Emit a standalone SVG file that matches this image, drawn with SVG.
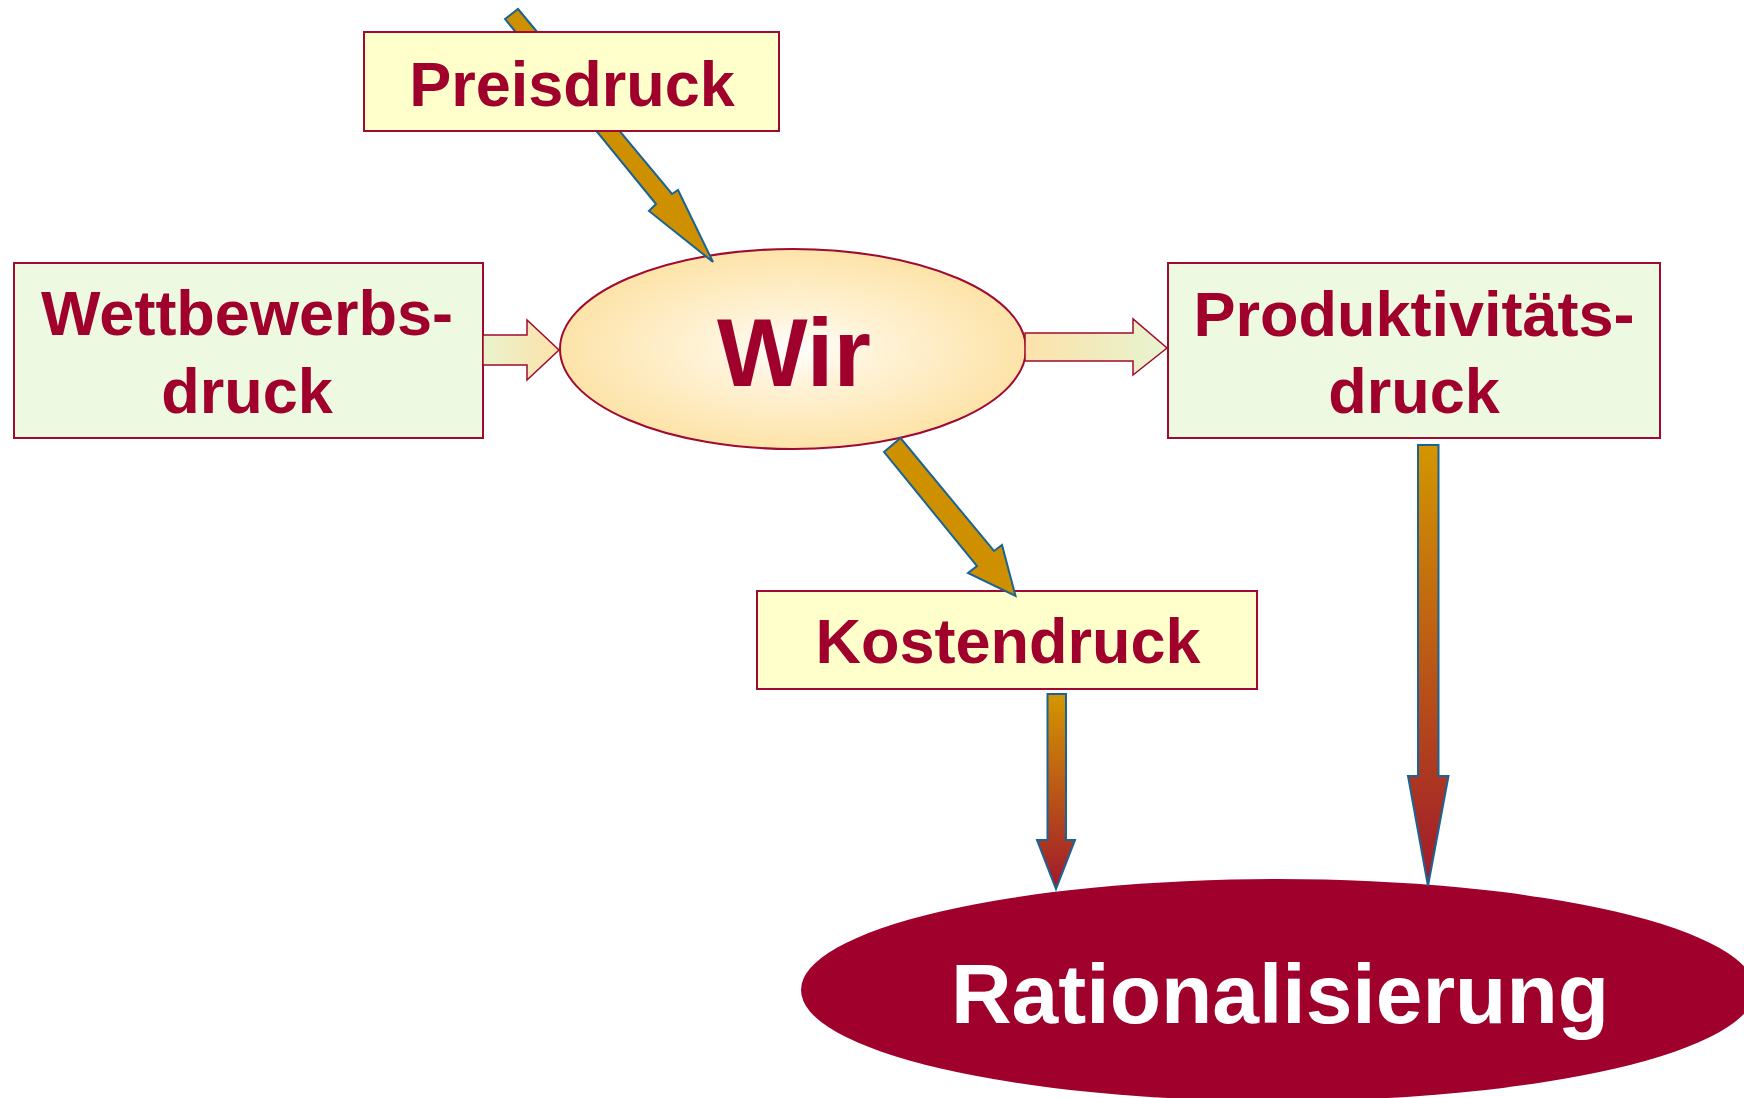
<svg xmlns="http://www.w3.org/2000/svg" width="1744" height="1098" viewBox="0 0 1744 1098">
<style>
.box{stroke:#A00A30;stroke-width:2}
.yel{fill:#FFFFCC}
.grn{fill:#EEF9E1}
.lbl{font-family:"Liberation Sans",Arial,sans-serif;font-weight:bold;fill:#A0002C;text-anchor:middle}
.diag{fill:#CF9000;stroke:#1A6494;stroke-width:2;stroke-linejoin:miter}
.down{fill:url(#gDown);stroke:#1A6494;stroke-width:2}
.harr{stroke:#A00A30;stroke-width:1.5}
</style>
<defs>
<radialGradient id="gWir" cx="50%" cy="50%" r="50%">
<stop offset="0" stop-color="#FFFFFF"/>
<stop offset="0.35" stop-color="#FFF3D8"/>
<stop offset="1" stop-color="#FDE3A8"/>
</radialGradient>
<linearGradient id="gDown" x1="0" y1="0" x2="0" y2="1">
<stop offset="0" stop-color="#D49600"/>
<stop offset="1" stop-color="#A0182C"/>
</linearGradient>
<linearGradient id="gH1" x1="0" y1="0" x2="1" y2="0">
<stop offset="0" stop-color="#E9F3CC"/>
<stop offset="1" stop-color="#FDE2AA"/>
</linearGradient>
<linearGradient id="gH2" x1="0" y1="0" x2="1" y2="0">
<stop offset="0" stop-color="#FDE2AA"/>
<stop offset="1" stop-color="#E6F4D0"/>
</linearGradient>
</defs>

<g id="node-wettbewerb">
<rect class="box grn" x="14" y="263" width="469" height="175"/>
<text class="lbl" x="247" y="335" font-size="63">Wettbewerbs-</text>
<text class="lbl" x="247" y="413" font-size="63">druck</text>
</g>

<g id="node-wir">
<ellipse cx="793" cy="349" rx="233" ry="100" fill="url(#gWir)" stroke="#A00A30" stroke-width="2"/>
<text class="lbl" x="794" y="386" font-size="96">Wir</text>
</g>

<g id="node-produktivitaet">
<rect class="box grn" x="1168" y="263" width="492" height="175"/>
<text class="lbl" x="1414" y="336" font-size="63">Produktivitäts-</text>
<text class="lbl" x="1414" y="413" font-size="63">druck</text>
</g>

<g id="node-kostendruck">
<rect class="box yel" x="757" y="591" width="500" height="98"/>
<text class="lbl" x="1008" y="663" font-size="63">Kostendruck</text>
</g>

<g id="node-rationalisierung">
<ellipse cx="1278" cy="990" rx="477" ry="111" fill="#A0002C"/>
<text class="lbl" x="1280" y="1023" font-size="84" style="fill:#FFFFFF">Rationalisierung</text>
</g>

<g id="connectors">
<polygon id="arr-preis" class="diag" points="505,19 518,9 672,194 678,190 713,262 649,211 656,204"/>
<polygon id="arr-wett" class="harr" fill="url(#gH1)" points="483,335 527,335 527,320 559,350 527,380 527,365 483,365"/>
<polygon id="arr-prod" class="harr" fill="url(#gH2)" points="1025,333 1133,333 1133,319 1167,348 1133,375 1133,361 1025,361"/>
<polygon id="arr-kosten" class="diag" points="884,452 900.5,438 994,551 1002,545 1015.5,596 968,573 977,566"/>
<polygon id="arr-kosten-rat" class="down" points="1047.5,694 1066,694 1066,840 1075,840 1056,889 1037,840 1047.5,840"/>
<polygon id="arr-prod-rat" class="down" points="1418,445 1438.5,445 1438.5,776 1448.5,776 1428,886 1408,776 1418,776"/>
</g>

<g id="node-preisdruck">
<rect class="box yel" x="364" y="32" width="415" height="99"/>
<text class="lbl" x="572" y="106" font-size="63">Preisdruck</text>
</g>
</svg>
